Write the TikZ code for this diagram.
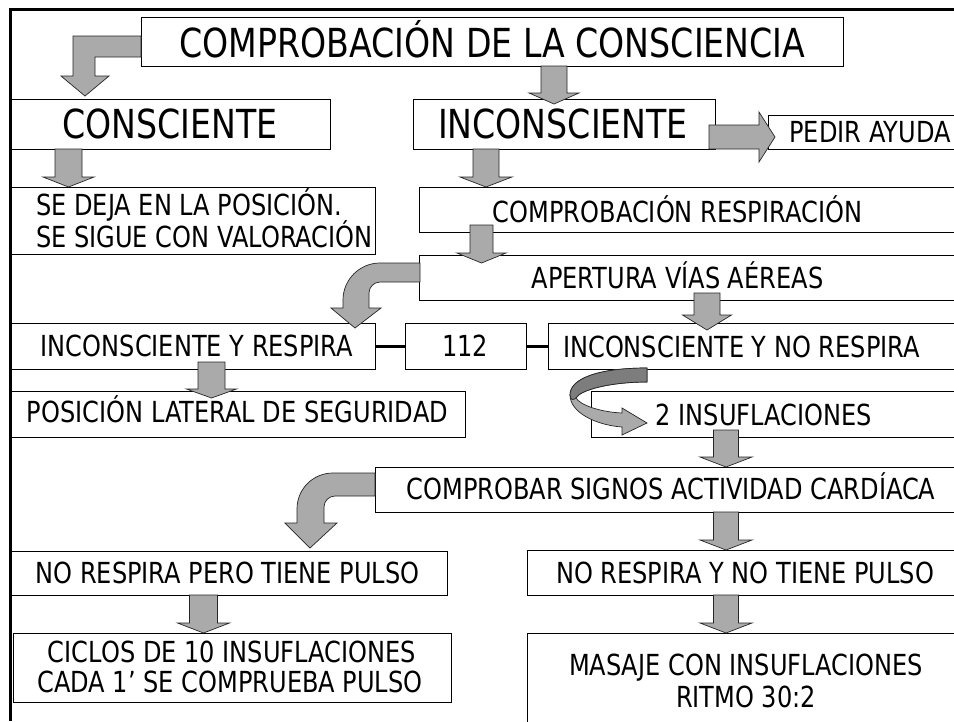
\documentclass[tikz,border=0pt]{standalone}
\usepackage{fontspec}
\setmainfont[FakeStretch=0.83]{DejaVu Sans}
\definecolor{agray}{RGB}{170,170,170}
\definecolor{dgray}{RGB}{125,125,125}
\tikzset{
  boxst/.style={draw=black, line width=1pt, fill=white, inner sep=0pt, outer sep=0pt, rectangle},
  arrowst/.style={fill=agray, draw=black!85, line width=0.7pt, line join=miter},
  big/.style={font=\fontsize{40}{48}\selectfont, anchor=base, inner sep=0pt},
  sm/.style={font=\fontsize{29}{32}\selectfont, anchor=base, inner sep=0pt},
  link/.style={line width=3pt, draw=black},
  frame/.style={line width=2.5pt, draw=black},
}
\newcommand\bx[5]{\node[boxst, anchor=north west, minimum width={(#3)-(#1)}, minimum height={(#4)-(#2)}] (#5) at (#1,#2) {};}
\newcommand\dnarrow[6]{\filldraw[arrowst] ({#1-#5},#2) -- ({#1+#5},#2) -- ({#1+#5},#3) -- ({#1+#6},#3) -- (#1,#4) -- ({#1-#6},#3) -- ({#1-#5},#3) -- cycle;}
\begin{document}
\begin{tikzpicture}[x=1pt,y=-1pt]
\useasboundingbox (0,0) rectangle (954,721);
\clip (0,0) rectangle (954,721);
\fill[white] (0,0) rectangle (954,721);
% boxes
\bx{141}{17}{843}{66}{title}
\bx{11}{99}{330}{149}{cons}
\bx{413}{99}{715}{149}{incons}
\bx{768}{115}{990}{149}{ayuda}
\bx{11}{187}{375}{254}{deja}
\bx{419}{187}{990}{232}{compresp}
\bx{419}{255}{990}{300}{apert}
\bx{11}{323}{375}{369}{iresp}
\bx{405}{323}{526}{369}{n112}
\bx{548}{323}{990}{369}{inoresp}
\bx{11}{391}{465}{437}{poslat}
\bx{591}{391}{990}{437}{insuf}
\bx{375}{467}{990}{512}{signos}
\bx{11}{551}{447}{595}{pulso}
\bx{13}{633}{451}{702}{ciclos}
\bx{527}{550}{990}{595}{nopulso}
\bx{527}{633}{990}{760}{masaje}
% links
\draw[link] (iresp.east) -- (n112.west);
\draw[link] (n112.east) -- (inoresp.west);
% straight arrows
\dnarrow{554}{66}{93}{104}{13}{25}
\dnarrow{68.5}{149}{177}{187}{13.5}{25.5}
\dnarrow{486}{149}{177}{187}{13}{26}
\dnarrow{481.5}{225}{253}{263}{11.5}{24.5}
\dnarrow{707}{293}{315}{330}{13}{24.5}
\dnarrow{211.5}{362}{389}{398}{13.5}{25}
\dnarrow{726}{430}{457}{467}{12.5}{26}
\dnarrow{726}{512}{540}{550}{12.5}{26}
\dnarrow{726}{595}{623}{633}{12.5}{26}
\dnarrow{203.5}{595}{623}{633}{14}{26}
% elbow arrow title -> consciente
\filldraw[arrowst] (141,36) -- (73,36) -- (73,76) -- (61,76) -- (85,96) -- (109,76) -- (95,76) -- (95,57) -- (141,57) -- cycle;
% arrow to pedir ayuda
\filldraw[arrowst] (709,125) -- (759,125) -- (759,112) -- (775,137) -- (759,162) -- (759,149) -- (709,149) -- cycle;
% curved arrow apertura -> inconsciente y respira
\filldraw[arrowst] (420,263) -- (380,263) .. controls (359.6,263) and (343,279.6) .. (343,300) -- (343,308) -- (331,308) -- (355,328) -- (381,308) -- (369,308) -- (369,293) .. controls (369,287) and (374,282) .. (380,282) -- (420,282) -- cycle;
% curved arrow comprobar -> no respira pero
\filldraw[arrowst] (375,473) -- (333,473) .. controls (313,473) and (297,489) .. (297,509) -- (297,523) -- (285,523) -- (310,548) -- (337,523) -- (324,523) -- (324,507) .. controls (324,501) and (329,496) .. (335,496) -- (375,496) -- cycle;
% U-turn arrow
\filldraw[arrowst] (647,368) .. controls (600,368) and (570,378) .. (570,395) .. controls (570,412) and (595,425) .. (622,427) -- (622,435) -- (647,423) -- (622,408) -- (622,413) .. controls (600,412) and (580,405) .. (576,398) .. controls (580,390) and (610,382) .. (647,382) -- cycle;
\filldraw[fill=dgray, draw=black!85, line width=0.7pt] (647,368) .. controls (600,368) and (570,378) .. (570,395) .. controls (571,401) and (573,400) .. (576,398) .. controls (580,390) and (610,382) .. (647,382) -- cycle;
% frame
\draw[frame] (10.5,721) -- (10.5,9.5) -- (954,9.5);
% texts
\node[big] (t1) at (492.5,57) {COMPROBACIÓN DE LA CONSCIENCIA};
\node[big] (t2) at (170,138) {CONSCIENTE};
\node[big] (t3) at (563,138) {INCONSCIENTE};
\node[sm] (t4) at (870,142) {PEDIR AYUDA};
\node[sm, anchor=base west] (t5) at (36,215) {SE DEJA EN LA POSICIÓN.};
\node[sm, anchor=base west] (t6) at (36,247) {SE SIGUE CON VALORACIÓN};
\node[sm] (t7) at (677.5,222) {COMPROBACIÓN RESPIRACIÓN};
\node[sm] (t8) at (677.5,288) {APERTURA VÍAS AÉREAS};
\node[sm] (t9) at (197,356) {INCONSCIENTE Y RESPIRA};
\node[sm] (t10) at (465,356) {112};
\node[sm] (t11) at (741.5,357) {INCONSCIENTE Y NO RESPIRA};
\node[sm] (t12) at (237.5,422) {POSICIÓN LATERAL DE SEGURIDAD};
\node[sm] (t13) at (764,425) {2 INSUFLACIONES};
\node[sm] (t14) at (671,499) {COMPROBAR SIGNOS ACTIVIDAD CARDÍACA};
\node[sm] (t15) at (227.5,583) {NO RESPIRA PERO TIENE PULSO};
\node[sm] (t16) at (745,583) {NO RESPIRA Y NO TIENE PULSO};
\node[sm] (t17) at (232,662) {CICLOS DE 10 INSUFLACIONES};
\node[sm] (t18) at (230,692) {CADA 1’ SE COMPRUEBA PULSO};
\node[sm] (t19) at (746,675) {MASAJE CON INSUFLACIONES};
\node[sm] (t20) at (746,707) {RITMO 30:2};
\end{tikzpicture}
\end{document}
